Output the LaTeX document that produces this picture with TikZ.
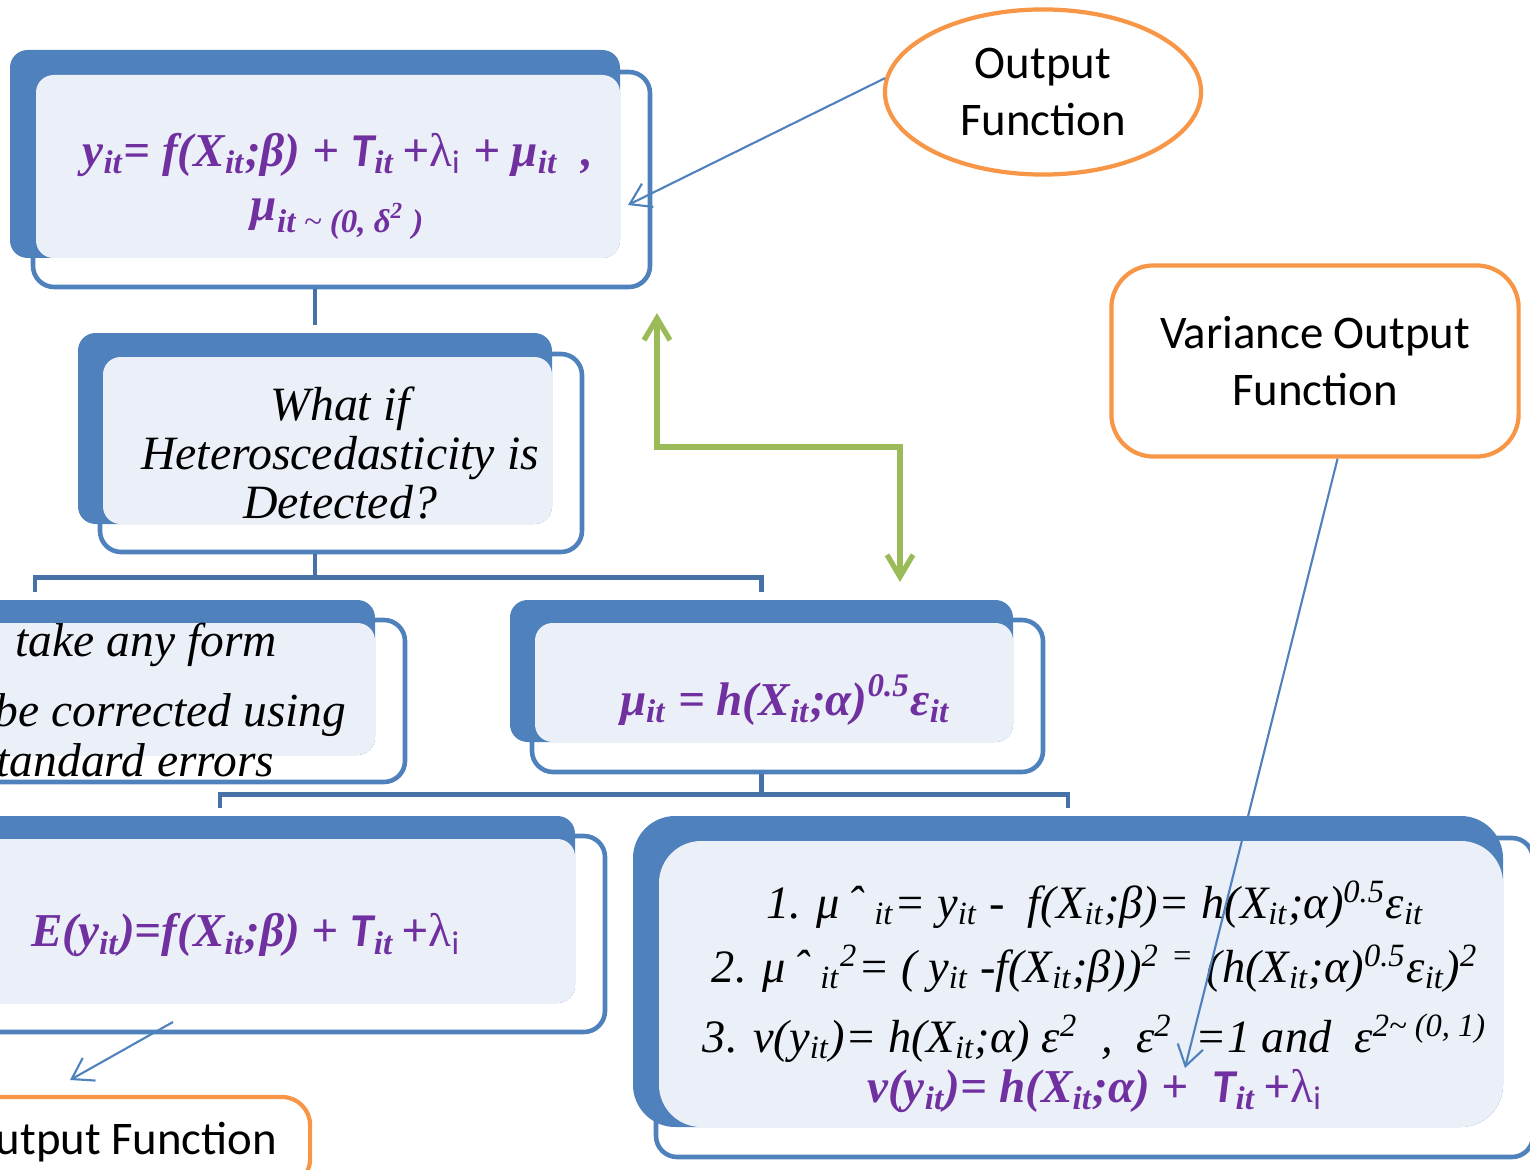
\documentclass[tikz,border=0pt]{standalone}
\usepackage{fontspec}
\setmainfont{Liberation Serif}
\newfontfamily\calfont{Carlito}
\usetikzlibrary{arrows.meta,fit,shapes.geometric}
\definecolor{tierblue}{HTML}{4F81BD}
\definecolor{tierlight}{HTML}{EBF0F8}
\definecolor{linkblue}{HTML}{4672A8}
\definecolor{orange1}{HTML}{F79646}
\definecolor{green1}{HTML}{9BBB59}
\definecolor{purple1}{HTML}{7030A0}
\newcommand{\Tsym}{{\calfont\bfseries\itshape T}}
\newcommand{\lami}{{\mdseries\upshape λ\textsubscript{\calfont i}}}

\tikzset{
  front/.style={draw=tierblue, line width=1.3pt, fill=white, rounded corners=6pt, inner sep=0pt},
  back/.style={fill=tierblue, rounded corners=5pt, inner sep=0pt},
  shade/.style={fill=tierlight, rounded corners=5pt, inner sep=0pt},
  link/.style={draw=linkblue, line width=1.3pt, shorten >=0.07cm},
  pointer/.style={draw=tierblue, line width=0.6pt, -{Straight Barb[length=2mm,width=2.6mm]}},
  swap/.style={draw=green1, line width=1.5pt,
    {Straight Barb[length=2.2mm,width=2.6mm]}-{Straight Barb[length=2.2mm,width=2.6mm]}},
  eqn/.style={text=purple1, font=\fontsize{13.4}{15.6}\selectfont\bfseries\itshape, align=center},
  ask/.style={font=\fontsize{13.6}{14}\selectfont\itshape, align=center},
  note/.style={font=\fontsize{13.5}{16}\selectfont\itshape, anchor=base west, inner sep=0pt},
  deriv/.style={font=\fontsize{13.2}{16}\selectfont\itshape, anchor=base},
  callout/.style={draw=orange1, line width=1.2pt, fill=white,
    font=\calfont\fontsize{13.3}{16.2}\selectfont, align=center}
}

\begin{document}
\begin{tikzpicture}[x=0.01cm, y=-0.01cm]
  \useasboundingbox (0,0) rectangle (1530,1170);
  \clip (0,0) rectangle (1530,1170);
  % Output function
  \node[front, fit={(33,72) (650,287)}] (aF) {};
  \node[back, fit={(10,50) (620,258)}] (aB) {};
  \node[shade, fit={(36,75) (620,258)}] (aS) {};
  \node[eqn] (aT) at (338,186) {y\textsubscript{it}= f(X\textsubscript{it};β) + \Tsym\textsubscript{it}\,+\lami{} + μ\textsubscript{it}\ \ ,\\
    μ\textsubscript{it {\mdseries\textasciitilde} (0, δ\textsuperscript{2} )}};
  % Question
  \node[front, fit={(100,354) (582,552)}] (bF) {};
  \node[back, fit={(78,333) (552,524)}] (bB) {};
  \node[shade, fit={(103,357) (552,524)}] (bS) {};
  \node[ask] (bT) at (340,453) {What if\\Heteroscedasticity is\\Detected?};
  % Any form
  \node[front, fit={(-283,620) (405,782)}] (cF) {};
  \node[back, fit={(-305,600) (375,755)}] (cB) {};
  \node[shade, fit={(-280,623) (375,755)}] (cS) {};
  \node[note] (cT1) at (15,656) {take any form};
  \node[note] (cT2) at (-6,726) {be corrected using};
  \node[note] (cT3) at (-4,776) {tandard errors};
  % Error term
  \node[front, fit={(532,620) (1043,772)}] (dF) {};
  \node[back, fit={(510,600) (1013,742)}] (dB) {};
  \node[shade, fit={(535,623) (1013,742)}] (dS) {};
  \node[eqn] (dT) at (785,700) {μ\textsubscript{it} = h(X\textsubscript{it};α)\textsuperscript{0.5}ε\textsubscript{it}};
  % Mean
  \node[front, fit={(-113,836) (605,1032)}] (eF) {};
  \node[back, fit={(-135,816) (575,1003)}] (eB) {};
  \node[shade, fit={(-110,839) (575,1003)}] (eS) {};
  \node[eqn] (eT) at (246,935) {E(y\textsubscript{it})=f(X\textsubscript{it};β) + \Tsym\textsubscript{it}\,+\lami};
  % Variance steps
  \node[front, fit={(656,838) (1533,1157)}] (fF) {};
  \node[back, rounded corners=12pt, fit={(633,816) (1503,1127)}] (fB) {};
  \node[shade, rounded corners=12pt, fit={(659,841) (1503,1127)}] (fS) {};
  \node[deriv] (fT1) at (1095,918) {1. μ\,ˆ\ \textsubscript{it}= y\textsubscript{it} -\ \ f(X\textsubscript{it};β)= h(X\textsubscript{it};α)\textsuperscript{0.5}ε\textsubscript{it}};
  \node[deriv] (fT2) at (1095,982) {2. μ\,ˆ\ \textsubscript{it}\textsuperscript{2}= ( y\textsubscript{it} -f(X\textsubscript{it};β))\textsuperscript{2}\ \textsuperscript{=} (h(X\textsubscript{it};α)\textsuperscript{0.5}ε\textsubscript{it})\textsuperscript{2}};
  \node[deriv] (fT3) at (1095,1052) {3. v(y\textsubscript{it})= h(X\textsubscript{it};α) ε\textsuperscript{2}\ \ ,\ \ ε\textsuperscript{2}\ \ =1 and\ \ ε\textsuperscript{2\textasciitilde\ (0, 1)}};
  \node[eqn, anchor=base] (fT4) at (1095,1102) {v(y\textsubscript{it})= h(X\textsubscript{it};α) +\ \ \Tsym\textsubscript{it}\,+\lami};
  % Tree links
  \draw[link] (aB.south |- aF.south) -- (aB.south |- bB.north);
  \draw[link] (bB.south |- bF.south) -- ++(0,23) -| (cB.north);
  \draw[link] (bB.south |- bF.south) -- ++(0,23) -| (dB.north);
  \draw[link] (dB.south |- dF.south) -- ++(0,20) -| (eB.north);
  \draw[link] (dB.south |- dF.south) -- ++(0,20) -| (fB.north);
  % Callouts
  \node[callout, ellipse, minimum width=3.16cm, minimum height=1.65cm] (outfun) at (1043,92) {Output\\Function};
  \node[callout, rounded corners=12pt, minimum width=4.07cm, minimum height=1.91cm] (varfun) at (1315,361) {Variance Output\\Function};
  \node[callout, rounded corners=8pt, minimum width=3.78cm, minimum height=0.9cm] (meanfun) at (121,1142) {Output Function};
  \coordinate (aTip) at (628,205);
  \coordinate (vTip) at (1185,1068);
  \coordinate (eTail) at (173,1022);
  \coordinate (mTip) at (70,1080);
  \draw[pointer] (outfun.175) -- (aTip);
  \draw[pointer] (varfun.283) -- (vTip);
  \draw[pointer] (eTail) -- (mTip);
  % Swap arrow
  \coordinate (gUp) at (657,313);
  \coordinate (gDown) at (900,582);
  \draw[swap] (gUp) -- ++(0,134) -| (gDown);
\end{tikzpicture}
\end{document}
